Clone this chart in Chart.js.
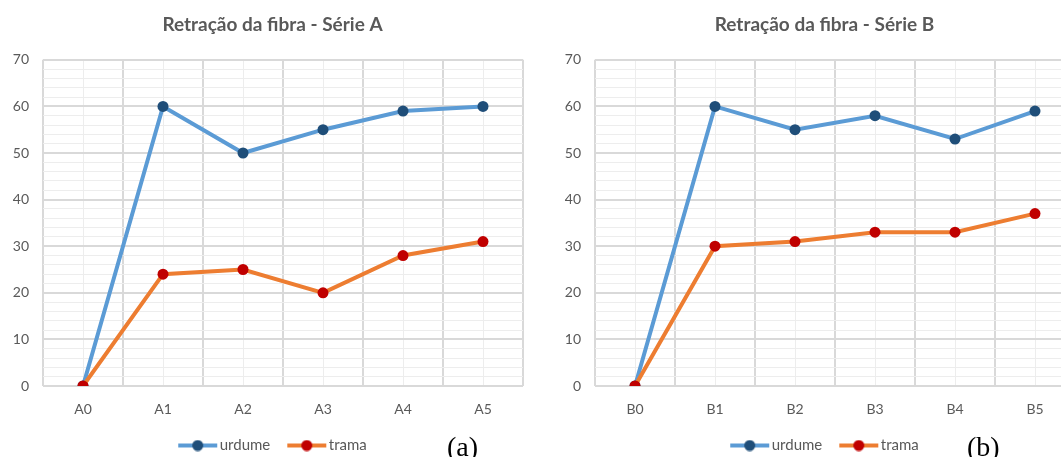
<!DOCTYPE html>
<html>
<head>
<meta charset="utf-8">
<script src="https://cdn.jsdelivr.net/npm/chart.js@4.4.1/dist/chart.umd.min.js"></script>
<style>
  body { margin: 0; background: #fff; }
  #page { position: relative; width: 1061px; height: 457px; overflow: hidden; background: #fff; }
  .box { position: absolute; top: 0; width: 545px; height: 463px; }
  .tag { position: absolute; top: 433px; font-family: "Liberation Serif", serif; font-size: 28px; line-height: 1; color: #000; }
</style>
</head>
<body>
<div id="page">
  <div class="box" style="left:0"><canvas id="chartA"></canvas></div>
  <div class="box" style="left:552px"><canvas id="chartB"></canvas></div>
  <div class="tag" style="left:447px">(a)</div>
  <div class="tag" style="left:967px">(b)</div>
</div>
<script>
const labelsA = ['A0', 'A1', 'A2', 'A3', 'A4', 'A5'];
const labelsB = ['B0', 'B1', 'B2', 'B3', 'B4', 'B5'];

const urdumeA = [0, 60, 50, 55, 59, 60];
const tramaA = [0, 24, 25, 20, 28, 31];

const urdumeB = [0, 60, 55, 58, 53, 59];
const tramaB = [0, 30, 31, 33, 33, 37];

const yMax = 70;
const yStep = 2;     // minor gridlines
const yLabelStep = 10;

const textColor = '#595959';
const fontName = 'Lato, "Liberation Sans", sans-serif';

// little line + dot picture for the legend, like excel does it
function legendIcon(lineColor, dotColor) {
  const c = document.createElement('canvas');
  c.width = 46; c.height = 12;
  const g = c.getContext('2d');
  g.strokeStyle = lineColor;
  g.lineWidth = 4;
  g.beginPath(); g.moveTo(6, 6); g.lineTo(45, 6); g.stroke();
  g.fillStyle = dotColor;
  g.beginPath(); g.arc(25.5, 6, 5.5, 0, Math.PI * 2); g.fill();
  return c;
}

const icons = [legendIcon('#5B9BD5', '#1F4E79'), legendIcon('#ED7D31', '#C00000')];

function makeChart(id, title, labels, urdume, trama) {
  return new Chart(document.getElementById(id), {
    type: 'line',
    data: {
      labels: labels,
      datasets: [{
        label: 'urdume',
        data: urdume,
        borderColor: '#5B9BD5',
        backgroundColor: '#1F4E79',
        pointBackgroundColor: '#1F4E79',
        pointBorderColor: '#1F4E79',
        borderWidth: 4,
        pointRadius: 5.5,
        pointBorderWidth: 0,
        tension: 0,
        order: 1
      }, {
        label: 'trama',
        data: trama,
        borderColor: '#ED7D31',
        backgroundColor: '#C00000',
        pointBackgroundColor: '#C00000',
        pointBorderColor: '#C00000',
        borderWidth: 4,
        pointRadius: 5.5,
        pointBorderWidth: 0,
        tension: 0,
        order: 0
      }]
    },
    options: {
      responsive: true,
      maintainAspectRatio: false,
      animation: false,
      layout: { padding: 0 },
      plugins: {
        title: {
          display: true,
          text: title,
          color: textColor,
          font: { family: fontName, size: 19, weight: 'bold' },
          padding: { top: 13, bottom: 24 }
        },
        legend: {
          position: 'bottom',
          labels: {
            usePointStyle: true,
            pointStyleWidth: 34,
            padding: 17,
            color: textColor,
            font: { family: fontName, size: 15 },
            sort: (a, b) => a.datasetIndex - b.datasetIndex,
            generateLabels: (chart) => {
              const items = Chart.defaults.plugins.legend.labels.generateLabels(chart);
              items.forEach(it => { it.pointStyle = icons[it.datasetIndex]; });
              return items;
            }
          }
        },
        tooltip: { enabled: false }
      },
      scales: {
        x: {
          offset: true,
          grid: { offset: true, color: '#d9d9d9', lineWidth: 2, drawTicks: false },
          border: { display: false },
          ticks: { color: textColor, padding: 15, font: { family: fontName, size: 14 } },
          afterFit: (s) => { s.height = 35; }
        },
        x2: {
          type: 'category',
          position: 'bottom',
          offset: true,
          grid: { offset: false, color: '#ededed', lineWidth: 1, drawTicks: false },
          border: { display: false },
          ticks: { display: false },
          afterFit: (s) => { s.height = 0; }
        },
        y: {
          min: 0,
          max: yMax,
          grid: {
            drawTicks: false,
            color: (ctx) => ctx.tick && ctx.tick.value % yLabelStep === 0 ? '#d9d9d9' : '#ededed',
            lineWidth: (ctx) => ctx.tick && ctx.tick.value % yLabelStep === 0 ? 2 : 1
          },
          border: { display: false },
          ticks: {
            stepSize: yStep,
            autoSkip: false,
            padding: 14,
            color: textColor,
            font: { family: fontName, size: 14 },
            callback: (v) => v % yLabelStep === 0 ? v : ''
          },
          afterFit: (s) => { s.width = 43; }
        },
        // empty axis on the right, only to keep space like the excel plot area
        yRight: {
          position: 'right',
          min: 0,
          max: yMax,
          grid: { drawOnChartArea: false, drawTicks: false },
          border: { display: false },
          ticks: { display: false },
          afterFit: (s) => { s.width = 22; }
        }
      }
    }
  });
}

var chartA = makeChart('chartA', 'Retração da fibra - Série A', labelsA, urdumeA, tramaA);
var chartB = makeChart('chartB', 'Retração da fibra - Série B', labelsB, urdumeB, tramaB);
</script>
</body>
</html>
